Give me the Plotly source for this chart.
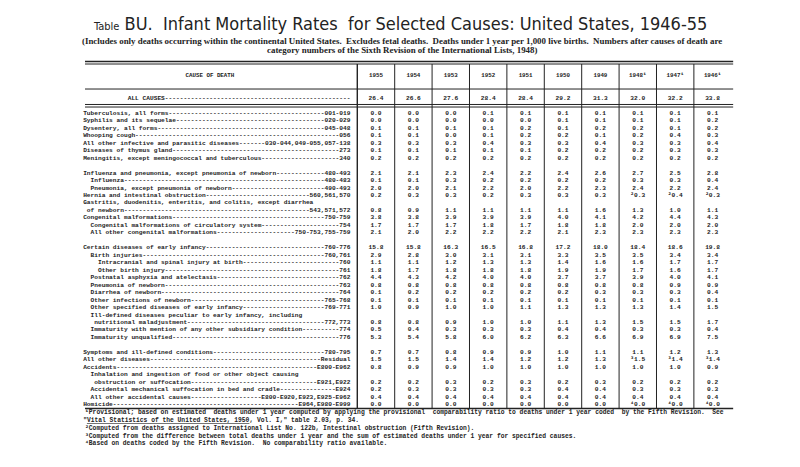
import plotly.graph_objects as go

# ---------------- DATA ----------------
years = ["1955", "1954", "1953", "1952", "1951", "1950", "1949", "1948", "1947", "1946"]
year_notes = ["", "", "", "", "", "", "", "¹", "¹", "¹"]
all_causes = [26.4, 26.6, 27.6, 28.4, 28.4, 29.2, 31.3, 32.0, 32.2, 33.8]

causes = [
    "Tuberculosis, all forms",
    "Syphilis and its sequelae",
    "Dysentery, all forms",
    "Whooping cough",
    "All other infective and parasitic diseases",
    "Diseases of thymus gland",
    "Meningitis, except meningococcal and tuberculous",
    "",
    "Influenza and pneumonia, except pneumonia of newborn",
    "Influenza",
    "Pneumonia, except pneumonia of newborn",
    "Hernia and intestinal obstruction",
    "Gastritis, duodenitis, enteritis, and colitis, except diarrhea",
    "of newborn",
    "Congenital malformations",
    "Congenital malformations of circulatory system",
    "All other congenital malformations",
    "",
    "Certain diseases of early infancy",
    "Birth injuries",
    "Intracranial and spinal injury at birth",
    "Other birth injury",
    "Postnatal asphyxia and atelectasis",
    "Pneumonia of newborn",
    "Diarrhea of newborn",
    "Other infections of newborn",
    "Other specified diseases of early infancy",
    "Ill-defined diseases peculiar to early infancy, including",
    "nutritional maladjustment",
    "Immaturity with mention of any other subsidiary condition",
    "Immaturity unqualified",
    "",
    "Symptoms and ill-defined conditions",
    "All other diseases",
    "Accidents",
    "Inhalation and ingestion of food or other object causing",
    "obstruction or suffocation",
    "Accidental mechanical suffocation in bed and cradle",
    "All other accidental causes",
    "Homicide",
]
codes = [
    "001-019", "020-029", "045-048", "056", "030-044,049-055,057-138", "273", "340",
    "",
    "480-493", "480-483", "490-493", "560,561,570", "", "543,571,572", "750-759", "754",
    "750-753,755-759",
    "",
    "760-776", "760,761", "760", "761", "762", "763", "764", "765-768", "769-771", "",
    "772,773", "774", "776",
    "",
    "780-795", "Residual", "E800-E962", "", "E921,E922", "E924", "E800-E920,E923,E925-E962",
    "E964,E980-E999",
]
indents = [0, 0, 0, 0, 0, 0, 0, 0,
           0, 2, 2, 0, 0, 1, 0, 2, 2, 0,
           0, 2, 4, 4, 2, 2, 2, 2, 2, 2, 3, 2, 2, 0,
           0, 0, 0, 2, 3, 2, 2, 0]

N = None
v1955 = [0.0, 0.0, 0.1, 0.1, 0.3, 0.1, 0.2, N, 2.1, 0.1, 2.0, 0.2, N, 0.8, 3.8, 1.7, 2.1, N,
         15.8, 2.9, 1.1, 1.8, 4.4, 0.8, 0.1, 0.1, 1.0, N, 0.8, 0.5, 5.3, N,
         0.7, 1.5, 0.8, N, 0.2, 0.2, 0.4, 0.0]
v1954 = [0.0, 0.0, 0.1, 0.1, 0.3, 0.1, 0.2, N, 2.1, 0.1, 2.0, 0.3, N, 0.9, 3.8, 1.7, 2.0, N,
         15.8, 2.8, 1.1, 1.7, 4.3, 0.8, 0.2, 0.1, 0.9, N, 0.8, 0.4, 5.4, N,
         0.7, 1.5, 0.9, N, 0.2, 0.3, 0.4, 0.0]
v1953 = [0.0, 0.0, 0.1, 0.0, 0.3, 0.1, 0.2, N, 2.3, 0.3, 2.1, 0.3, N, 1.1, 3.9, 1.7, 2.2, N,
         16.3, 3.0, 1.2, 1.8, 4.2, 0.8, 0.2, 0.1, 1.0, N, 0.9, 0.3, 5.8, N,
         0.8, 1.4, 0.9, N, 0.3, 0.3, 0.4, 0.0]
v1952 = [0.1, 0.0, 0.1, 0.1, 0.4, 0.1, 0.2, N, 2.4, 0.2, 2.2, 0.2, N, 1.1, 3.9, 1.8, 2.2, N,
         16.5, 3.1, 1.3, 1.8, 4.0, 0.8, 0.2, 0.1, 1.0, N, 1.0, 0.3, 6.0, N,
         0.9, 1.4, 1.0, N, 0.2, 0.3, 0.4, 0.0]
v1951 = [0.1, 0.0, 0.2, 0.2, 0.3, 0.1, 0.2, N, 2.2, 0.2, 2.0, 0.3, N, 1.1, 3.9, 1.7, 2.2, N,
         16.8, 3.1, 1.3, 1.8, 4.0, 0.8, 0.2, 0.1, 1.1, N, 1.0, 0.3, 6.2, N,
         0.9, 1.2, 1.0, N, 0.3, 0.3, 0.4, 0.0]
v1950 = [0.1, 0.1, 0.1, 0.2, 0.3, 0.2, 0.2, N, 2.4, 0.2, 2.2, 0.3, N, 1.1, 4.0, 1.8, 2.1, N,
         17.2, 3.3, 1.4, 1.9, 3.7, 0.8, 0.2, 0.1, 1.3, N, 1.1, 0.4, 6.3, N,
         1.0, 1.2, 1.0, N, 0.2, 0.4, 0.4, 0.0]
v1949 = [0.1, 0.1, 0.2, 0.1, 0.4, 0.2, 0.2, N, 2.6, 0.2, 2.3, 0.3, N, 1.6, 4.1, 1.8, 2.3, N,
         18.0, 3.5, 1.6, 1.9, 3.7, 0.8, 0.3, 0.1, 1.3, N, 1.3, 0.4, 6.6, N,
         1.1, 1.3, 1.0, N, 0.3, 0.4, 0.4, 0.0]
v1948 = [0.1, 0.1, 0.2, 0.2, 0.3, 0.2, 0.2, N, 2.7, 0.3, 2.4, 0.3, N, 1.3, 4.2, 2.0, 2.3, N,
         18.4, 3.5, 1.6, 1.7, 3.9, 0.8, 0.3, 0.1, 1.3, N, 1.5, 0.3, 6.9, N,
         1.1, 1.5, 1.0, N, 0.2, 0.3, 0.4, 0.0]
v1947 = [0.1, 0.1, 0.1, 0.4, 0.3, 0.3, 0.2, N, 2.5, 0.3, 2.2, 0.4, N, 1.0, 4.4, 2.0, 2.3, N,
         18.6, 3.4, 1.7, 1.6, 4.0, 0.9, 0.3, 0.1, 1.4, N, 1.5, 0.3, 6.9, N,
         1.2, 1.4, 1.0, N, 0.2, 0.3, 0.4, 0.0]
v1946 = [0.1, 0.2, 0.2, 0.3, 0.4, 0.3, 0.2, N, 2.8, 0.4, 2.4, 0.3, N, 1.1, 4.3, 2.0, 2.3, N,
         19.8, 3.4, 1.7, 1.7, 4.1, 0.9, 0.4, 0.1, 1.5, N, 1.7, 0.4, 7.5, N,
         1.3, 1.4, 0.9, N, 0.2, 0.3, 0.4, 0.0]
value_columns = [v1955, v1954, v1953, v1952, v1951, v1950, v1949, v1948, v1947, v1946]

# footnote markers attached to values (row index -> marker) for the noted years
value_notes = {11: "²", 33: "³", 39: "⁴"}
noted_years = ["1948", "1947", "1946"]

title_text = "BU.\u00a0 Infant Mortality Rates\u00a0 for Selected Causes: United States, 1946-55"
subtitle_1 = ("(Includes only deaths occurring within the continental United States.\u00a0 Excludes fetal deaths.\u00a0 "
              "Deaths under 1 year per 1,000 live births.\u00a0 Numbers after causes of death are")
subtitle_2 = "category numbers of the Sixth Revision of the International Lists, 1948)"

footnotes = [
    ("\u00a0¹Provisional; based on estimated\u00a0 deaths under 1 year computed by applying the provisional\u00a0 "
     "comparability ratio to deaths under 1 year coded\u00a0 by the Fifth Revision.\u00a0 See"),
    ("\"<span style='text-decoration:underline'>Vital Statistics of the United States, 1950</span>, Vol. I,\" table 2.03, p. 34."),
    "\u00a0²Computed from deaths assigned to International List No. 122b, Intestinal obstruction (Fifth Revision).",
    "\u00a0³Computed from the difference between total deaths under 1 year and the sum of estimated deaths under 1 year for specified causes.",
    "\u00a0⁴Based on deaths coded by the Fifth Revision.\u00a0 No comparability ratio available.",
]

# ---------------- LAYOUT CONSTANTS ----------------
LINE_CHARS = 72
MONO = "Liberation Mono, Courier New, monospace"
INK = "#232323"
BODY_SIZE = 6.2
LABEL_X = -7.83       # left anchor of the cause column (in column units)
RULE_X0 = -7.78
RULE_X1 = 9.55
HEADER_Y = -5.0
ALL_Y = -2.05


def label_line(text, code, indent):
    pad = "\u00a0" * indent
    if code:
        dashes = "-" * max(2, LINE_CHARS - indent - len(text) - len(code))
        return pad + text + dashes + code
    return pad + text


fig = go.Figure()

lab_y = [r for r, t in enumerate(causes) if t]
labels = [label_line(causes[r], codes[r], indents[r]) for r in lab_y]
fig.add_trace(go.Scatter(
    x=[LABEL_X] * len(lab_y), y=lab_y, text=labels, mode="text",
    textposition="middle right", hoverinfo="skip",
    textfont=dict(family=MONO, size=BODY_SIZE, color=INK, weight="bold"),
))

# value columns
for ci, (yr, col) in enumerate(zip(years, value_columns)):
    ys, txt = [], []
    for r, v in enumerate(col):
        if v is None:
            continue
        s = f"{v:.1f}"
        if yr in noted_years and r in value_notes:
            s = value_notes[r] + s
        ys.append(r)
        txt.append(s)
    fig.add_trace(go.Scatter(
        x=[ci] * len(ys), y=ys, text=txt, mode="text", textposition="middle center",
        hoverinfo="skip",
        textfont=dict(family=MONO, size=BODY_SIZE, color=INK, weight="bold"),
    ))

# header
hdr = [y + n for y, n in zip(years, year_notes)]
fig.add_trace(go.Scatter(
    x=list(range(len(years))), y=[HEADER_Y] * len(years), text=hdr, mode="text",
    textposition="middle center", hoverinfo="skip",
    textfont=dict(family=MONO, size=5.8, color=INK, weight="bold"),
))
fig.add_trace(go.Scatter(
    x=[-4.44], y=[HEADER_Y], text=["CAUSE OF DEATH"], mode="text",
    textposition="middle center", hoverinfo="skip",
    textfont=dict(family=MONO, size=5.8, color=INK, weight="bold"),
))

# ALL CAUSES row
all_label = "\u00a0" * 12 + "ALL CAUSES" + "-" * (LINE_CHARS - 22)
fig.add_trace(go.Scatter(
    x=[LABEL_X] + list(range(len(years))), y=[ALL_Y] * (len(years) + 1),
    text=[all_label] + [f"{v:.1f}" for v in all_causes], mode="text",
    textposition=["middle right"] + ["middle center"] * len(years), hoverinfo="skip",
    textfont=dict(family=MONO, size=BODY_SIZE, color=INK, weight="bold"),
))

# footnotes
foot_x = [LABEL_X - 0.05, LABEL_X, LABEL_X - 0.05, LABEL_X - 0.05, LABEL_X - 0.05]
foot_y = [40.1, 41.15, 42.2, 43.2, 44.25]
fig.add_trace(go.Scatter(
    x=foot_x, y=foot_y, text=footnotes, mode="text", textposition="middle right",
    hoverinfo="skip",
    textfont=dict(family=MONO, size=6.3, color=INK, weight="bold"),
))

# rules
shapes = []
def hrule(y, w):
    shapes.append(dict(type="line", xref="x", yref="y", x0=RULE_X0, x1=RULE_X1, y0=y, y1=y,
                       line=dict(color=INK, width=w)))
hrule(-6.93, 1.6)
hrule(-6.6, 1.0)
hrule(-3.25, 1.0)
hrule(-1.18, 1.0)
hrule(-0.84, 1.0)
hrule(39.52, 1.4)
for k in range(len(years)):
    xb = k - 0.5
    shapes.append(dict(type="line", xref="x", yref="y", x0=xb, x1=xb, y0=-6.6, y1=39.52,
                       line=dict(color=INK, width=1.0 if k else 1.4)))

# titles
annotations = [
    dict(text="<span style='font-size:11px'>Table</span> " + title_text, xref="paper", yref="paper",
         x=0.5, y=1 - 23 / 467, xanchor="center", yanchor="middle", showarrow=False,
         font=dict(family="Liberation Sans Narrow, DejaVu Sans Condensed, Liberation Sans", size=18, color=INK)),
    dict(text=subtitle_1, xref="paper", yref="paper", x=0.503, y=1 - 41 / 467, xanchor="center",
         yanchor="middle", showarrow=False,
         font=dict(family="Liberation Serif, DejaVu Serif", size=8.9, color=INK, weight="bold")),
    dict(text=subtitle_2, xref="paper", yref="paper", x=0.503, y=1 - 50 / 467, xanchor="center",
         yanchor="middle", showarrow=False,
         font=dict(family="Liberation Serif, DejaVu Serif", size=8.9, color=INK, weight="bold")),
]

fig.update_layout(
    width=800, height=467, margin=dict(l=0, r=0, t=0, b=0),
    paper_bgcolor="white", plot_bgcolor="white", showlegend=False,
    xaxis=dict(range=[-10.053, 11.337], visible=False, fixedrange=True),
    yaxis=dict(range=[47.35, -15.167], visible=False, fixedrange=True),
    shapes=shapes, annotations=annotations,
)

fig.write_html("out.html", config={"displayModeBar": False},
               post_script="document.body.style.margin='0';document.body.style.padding='0';")
